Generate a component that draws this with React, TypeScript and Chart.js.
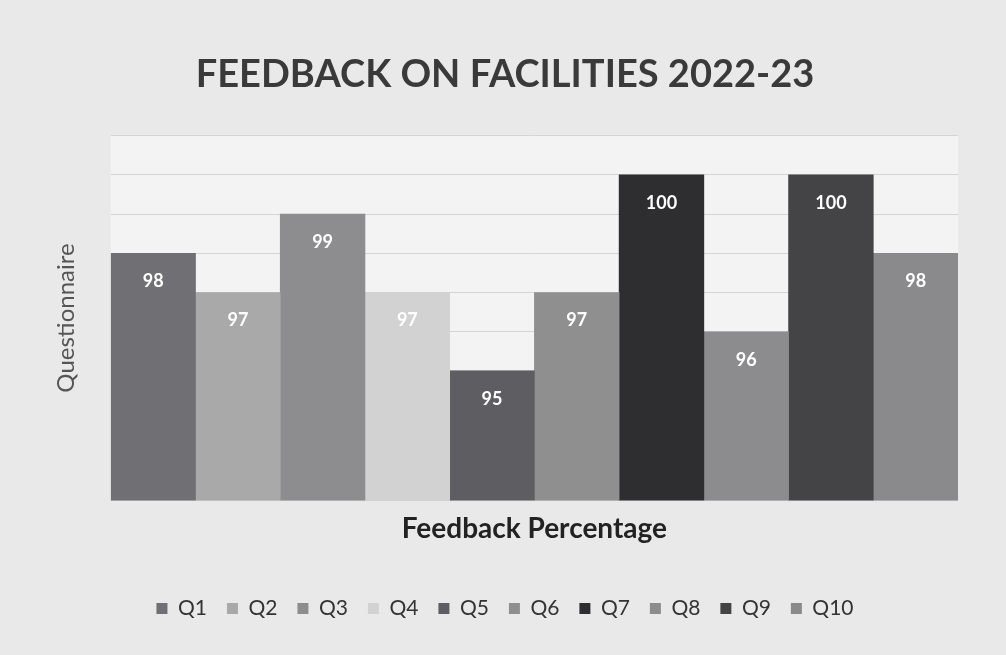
import React, { useEffect, useRef } from "react";
import { Chart, registerables } from "chart.js";

Chart.register(...registerables);

const categories = [""];
const seriesNames = ["Q1", "Q2", "Q3", "Q4", "Q5", "Q6", "Q7", "Q8", "Q9", "Q10"];
const seriesValues = [98, 97, 99, 97, 95, 97, 100, 96, 100, 98];
const seriesColors = [
  "#707074",
  "#a9a9a9",
  "#8d8d8f",
  "#d2d2d2",
  "#5e5e62",
  "#8f8f8f",
  "#2e2e30",
  "#8c8c8e",
  "#444446",
  "#8a8a8c",
];

const titleText = "FEEDBACK ON FACILITIES 2022-23";
const xTitle = "Feedback Percentage";
const yTitle = "Questionnaire";

const valueLabels = {
  id: "valueLabels",
  afterDatasetsDraw(chart: any) {
    const ctx = chart.ctx;
    ctx.save();
    ctx.fillStyle = "#ffffff";
    ctx.font = "bold 18px Lato, 'DejaVu Sans', sans-serif";
    ctx.textAlign = "center";
    ctx.textBaseline = "middle";
    chart.data.datasets.forEach((ds: any, i: number) => {
      const meta = chart.getDatasetMeta(i);
      meta.data.forEach((bar: any, j: number) => {
        ctx.fillText(String(ds.data[j]), bar.x, bar.y + 28);
      });
    });
    ctx.restore();
  },
};

const plotBg = {
  id: "plotBg",
  beforeDraw(chart: any) {
    const ctx = chart.ctx;
    ctx.save();
    ctx.fillStyle = "#e9e9e9";
    ctx.fillRect(0, 0, chart.width, chart.height);
    const a = chart.chartArea;
    ctx.fillStyle = "#f3f3f3";
    ctx.fillRect(a.left, a.top, a.right - a.left, a.bottom - a.top);
    ctx.restore();
  },
};

export default function App() {
  const ref = useRef<HTMLCanvasElement>(null);
  useEffect(() => {
    document.body.style.margin = "0";
    const chart = new Chart(ref.current as HTMLCanvasElement, {
      type: "bar",
      data: {
        labels: categories,
        datasets: seriesNames.map((name, i) => ({
          label: name,
          data: [seriesValues[i]],
          backgroundColor: seriesColors[i],
          borderWidth: 0,
          barPercentage: 1,
          categoryPercentage: 1,
        })),
      },
      options: {
        animation: false,
        responsive: false,
        maintainAspectRatio: false,
        layout: { padding: { top: 52, left: 52, right: 48, bottom: 26 } },
        plugins: {
          title: {
            display: true,
            text: titleText,
            color: "#3a3a3a",
            font: { size: 38, weight: "bold", family: "Lato, 'DejaVu Sans', sans-serif" },
            padding: { top: 0, bottom: 38 },
          },
          legend: {
            position: "bottom",
            labels: {
              boxWidth: 11,
              boxHeight: 11,
              color: "#333333",
              font: { size: 21, family: "Lato, 'DejaVu Sans', sans-serif" },
              padding: 20,
            },
          },
          tooltip: { enabled: false },
        },
        scales: {
          x: {
            grid: { display: false },
            border: { display: false },
            ticks: { display: false },
            title: {
              display: true,
              text: xTitle,
              color: "#222222",
              font: { size: 28, weight: "bold", family: "Lato, 'DejaVu Sans', sans-serif" },
              padding: { top: 4, bottom: 32 },
            },
          },
          y: {
            min: 91.7,
            max: 101,
            grid: { color: "#d4d4d4", drawTicks: false },
            border: { display: false },
            ticks: { display: false, stepSize: 1 },
            title: {
              display: true,
              text: yTitle,
              color: "#555555",
              font: { size: 24, family: "Lato, 'DejaVu Sans', sans-serif" },
              padding: { top: 0, bottom: 30 },
            },
          },
        },
      },
      plugins: [plotBg, valueLabels],
    });
    return () => chart.destroy();
  }, []);
  return <canvas ref={ref} width={1006} height={655} style={{ display: "block" }} />;
}
